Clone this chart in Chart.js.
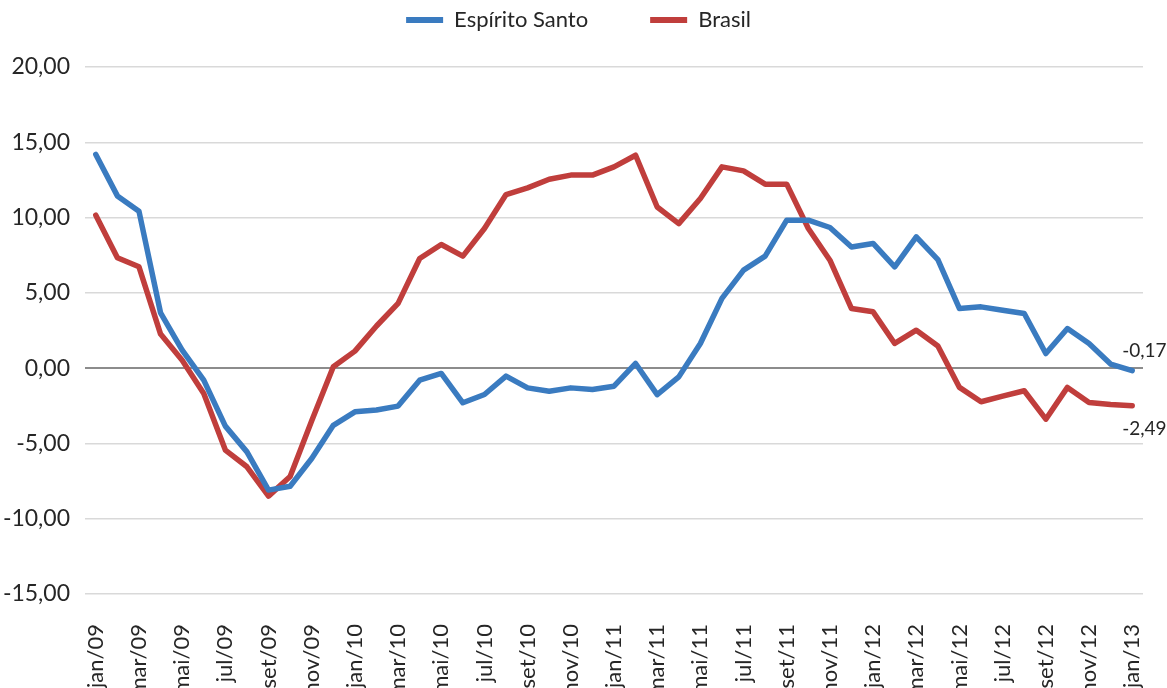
<!DOCTYPE html>
<html>
<head>
<meta charset="utf-8">
<script src="https://cdn.jsdelivr.net/npm/chart.js@4/dist/chart.umd.min.js"></script>
<style>
    html, body { margin: 0; padding: 0; background: #fff; overflow: hidden; }
    #wrap { width: 1167px; height: 688px; position: relative; }
</style>
</head>
<body>
<div id="wrap"><canvas id="chart"></canvas></div>
<script>
// Month names used to build the category labels (jan/09 .. jan/13)
const monthNames = ['jan', 'fev', 'mar', 'abr', 'mai', 'jun', 'jul', 'ago', 'set', 'out', 'nov', 'dez'];
const years = ['09', '10', '11', '12', '13'];
const categories = [];
years.forEach(y => monthNames.forEach(m => categories.push(m + '/' + y)));
categories.length = 49;

// Series values (%)
const espiritoSanto = [
    14.19, 11.44, 10.42, 3.67, 1.20, -0.80, -3.85, -5.56, -8.10, -7.84, -6.00, -3.80,
    -2.90, -2.78, -2.52, -0.80, -0.35, -2.30, -1.75, -0.53, -1.31, -1.53, -1.31, -1.42,
    -1.20, 0.31, -1.76, -0.58, 1.64, 4.63, 6.51, 7.44, 9.83, 9.83, 9.34, 8.05,
    8.28, 6.73, 8.72, 7.20, 3.96, 4.07, 3.85, 3.63, 0.97, 2.63, 1.64, 0.27,
    -0.17
];
const brasil = [
    10.16, 7.33, 6.73, 2.26, 0.53, -1.68, -5.44, -6.55, -8.50, -7.20, -3.50, 0.09,
    1.13, 2.80, 4.30, 7.28, 8.21, 7.44, 9.27, 11.53, 11.97, 12.55, 12.82, 12.82,
    13.37, 14.14, 10.70, 9.60, 11.27, 13.37, 13.10, 12.22, 12.22, 9.27, 7.17, 3.96,
    3.74, 1.64, 2.52, 1.47, -1.28, -2.23, -1.86, -1.50, -3.39, -1.28, -2.28, -2.41,
    -2.49
];

// Y axis ticks
const yTicks = [-15, -10, -5, 0, 5, 10, 15, 20];

const fmt = v => v.toFixed(2).replace('.', ',');
const fontFamily = "Lato, 'Open Sans', sans-serif";
const textColor = '#262626';

// Push the legend items apart and leave room above the plot
const legendSpacing = {
    id: 'legendSpacing',
    beforeInit(chart) {
        const fit = chart.legend.fit;
        chart.legend.fit = function () {
            fit.bind(chart.legend)();
            this.height = 120;
        };
    },
    afterLayout(chart) {
        // nudge the legend a little right, as in the original
        chart.legend.left += 7;
        chart.legend.right += 7;
    }
};

// Value labels at the last point of each line
const endLabels = {
    id: 'endLabels',
    afterDatasetsDraw(chart) {
        const ctx = chart.ctx;
        const shift = [-20, 23];
        chart.data.datasets.forEach((ds, i) => {
            const meta = chart.getDatasetMeta(i);
            const pt = meta.data[meta.data.length - 1];
            ctx.save();
            ctx.font = '19px ' + fontFamily;
            ctx.fillStyle = textColor;
            ctx.textAlign = 'left';
            ctx.textBaseline = 'middle';
            ctx.fillText(fmt(ds.data[ds.data.length - 1]), pt.x - 10, pt.y + shift[i]);
            ctx.restore();
        });
    }
};

const ctx = document.getElementById('chart');
new Chart(ctx, {
    type: 'line',
    data: {
        labels: categories,
        datasets: [{
            label: 'Espírito Santo',
            data: espiritoSanto,
            borderColor: '#3a7bc0',
            backgroundColor: '#3a7bc0',
            borderWidth: 5.5,
            pointRadius: 0,
            tension: 0,
            borderJoinStyle: 'round',
            borderCapStyle: 'round'
        }, {
            label: 'Brasil',
            data: brasil,
            borderColor: '#c03e3c',
            backgroundColor: '#c03e3c',
            borderWidth: 5.5,
            pointRadius: 0,
            tension: 0,
            borderJoinStyle: 'round',
            borderCapStyle: 'round'
        }]
    },
    options: {
        responsive: true,
        maintainAspectRatio: false,
        animation: false,
        layout: {
            padding: { top: -53, right: 24, left: 0, bottom: 0 }
        },
        plugins: {
            legend: {
                display: true,
                position: 'top',
                labels: {
                    boxWidth: 37,
                    boxHeight: 6,
                    padding: 62,
                    color: textColor,
                    font: { size: 22, family: fontFamily },
                    generateLabels(chart) {
                        return Chart.defaults.plugins.legend.labels.generateLabels(chart)
                            .map(l => ({ ...l, fillStyle: l.strokeStyle, lineWidth: 0 }));
                    }
                }
            },
            tooltip: { enabled: false }
        },
        scales: {
            x: {
                offset: true,
                grid: { display: false },
                border: { display: false },
                afterFit(scale) {
                    scale.height = 94;
                    scale.paddingLeft = 0;
                    scale.paddingRight = 0;
                },
                ticks: {
                    autoSkip: false,
                    minRotation: 90,
                    maxRotation: 90,
                    padding: 22,
                    color: textColor,
                    font: { size: 22, family: fontFamily },
                    callback(value, index) {
                        return index % 2 === 0 ? this.getLabelForValue(value) : '';
                    }
                }
            },
            y: {
                min: yTicks[0],
                max: yTicks[yTicks.length - 1],
                afterFit(scale) { scale.width = 85; },
                afterBuildTicks(scale) { scale.ticks = yTicks.map(v => ({ value: v })); },
                border: { display: false },
                grid: {
                    drawTicks: false,
                    color: c => c.tick && c.tick.value === 0 ? '#8c8c8c' : '#d9d9d9',
                    lineWidth: c => c.tick && c.tick.value === 0 ? 2 : 1.5
                },
                ticks: {
                    padding: 15,
                    color: textColor,
                    font: { size: 23, family: fontFamily },
                    callback: v => fmt(v)
                }
            }
        }
    },
    plugins: [legendSpacing, endLabels]
});
</script>
</body>
</html>
